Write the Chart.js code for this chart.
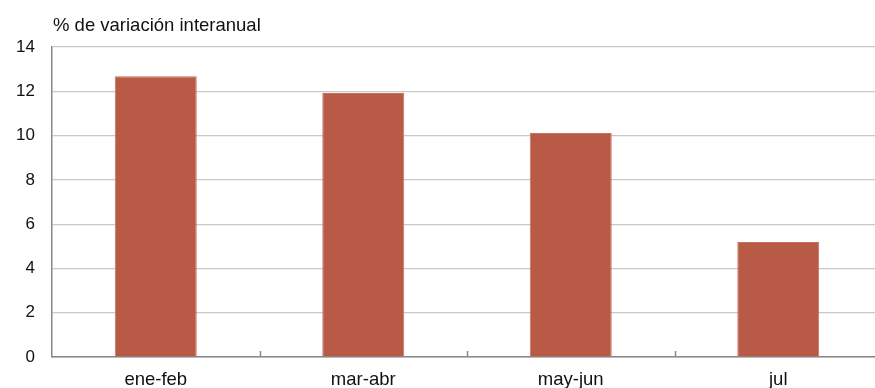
<!DOCTYPE html>
<html>
<head>
<meta charset="utf-8">
<script src="https://cdn.jsdelivr.net/npm/chart.js@4"></script>
<style>
  html, body { margin: 0; padding: 0; background: #fff; overflow: hidden; width: 875px; height: 388px; }
  #wrap { position: relative; width: 882px; height: 400px; }
</style>
</head>
<body>
<div id="wrap"><canvas id="c" width="882" height="400"></canvas></div>
<script>
// Year-on-year change by two-month period
const categories = ['ene-feb', 'mar-abr', 'may-jun', 'jul'];
const values = [12.68, 11.92, 10.12, 5.19];
const axisTitle = '% de variación interanual';
const yMin = 0, yMax = 14, yStep = 2;

const FONT = "'Liberation Sans', Arial, Helvetica, sans-serif";

// Unit label above the value axis, plus short inward ticks between categories
const decorations = {
  id: 'decorations',
  afterDraw(chart) {
    const ctx = chart.ctx;
    const area = chart.chartArea;
    const x = chart.scales.x;
    ctx.save();
    ctx.fillStyle = '#111';
    ctx.font = '18.5px ' + FONT;
    ctx.textBaseline = 'alphabetic';
    ctx.textAlign = 'left';
    ctx.fillText(axisTitle, area.left + 1, area.top - 16);

    ctx.strokeStyle = '#888';
    ctx.lineWidth = 1.5;
    for (let i = 1; i < categories.length; i++) {
      const px = Math.round((x.getPixelForValue(i - 1) + x.getPixelForValue(i)) / 2) + 0.5;
      ctx.beginPath();
      ctx.moveTo(px, area.bottom);
      ctx.lineTo(px, area.bottom - 6);
      ctx.stroke();
    }
    ctx.restore();
  }
};

new Chart(document.getElementById('c'), {
  type: 'bar',
  data: {
    labels: categories,
    datasets: [{
      data: values,
      backgroundColor: '#B95A46',
      borderColor: '#C9715F',
      borderWidth: 1,
      borderSkipped: 'bottom',
      categoryPercentage: 1,
      barPercentage: 0.395
    }]
  },
  options: {
    responsive: false,
    animation: false,
    layout: { padding: { top: 47, right: 0, bottom: 0, left: 0 } },
    plugins: { legend: { display: false }, tooltip: { enabled: false }, title: { display: false } },
    scales: {
      x: {
        grid: { display: false, drawTicks: false },
        border: { display: true, color: '#888', width: 1.5 },
        ticks: { color: '#111', font: { family: FONT, size: 18.5 }, padding: 12, maxRotation: 0 },
        afterFit(scale) { scale.height = 43; }
      },
      y: {
        min: yMin, max: yMax,
        grid: { color: '#c8c8c8', lineWidth: 1.2, drawTicks: false },
        border: { display: true, color: '#888', width: 1.5 },
        ticks: { stepSize: yStep, color: '#111', font: { family: FONT, size: 17 }, padding: 17 },
        afterFit(scale) { scale.width = 52; }
      }
    }
  },
  plugins: [decorations]
});
</script>
</body>
</html>
